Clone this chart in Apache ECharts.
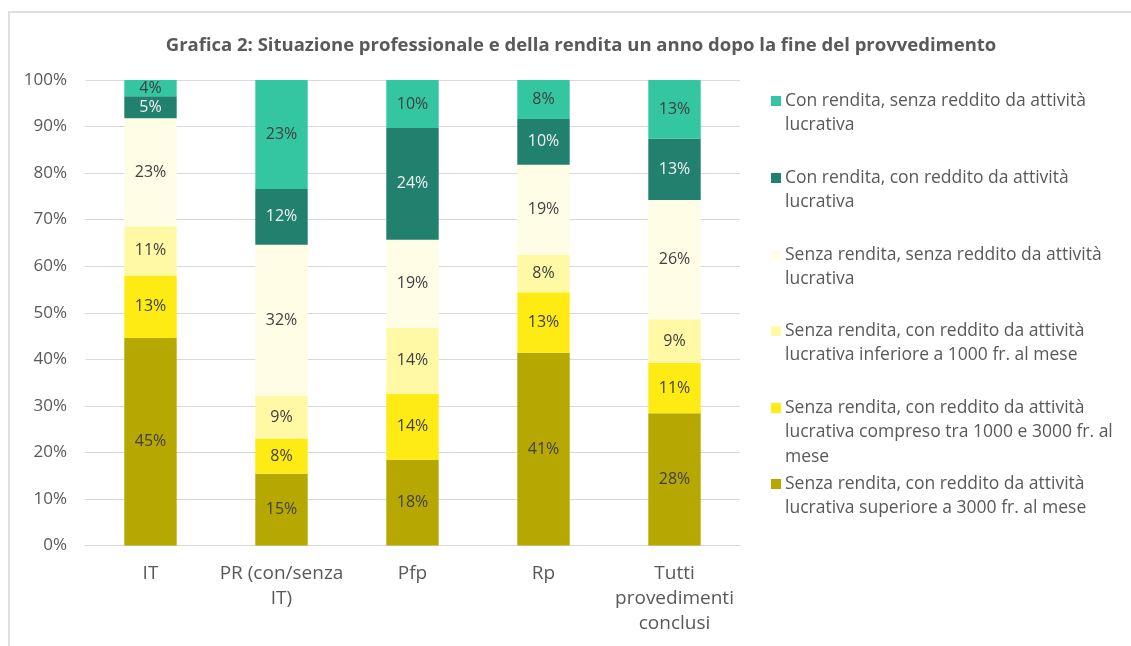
<!DOCTYPE html>
<html><head><meta charset="utf-8">
<script src="https://cdn.jsdelivr.net/npm/echarts@6/dist/echarts.min.js"></script>
<style>html,body{margin:0;padding:0;background:#fff}#c{width:1131px;height:646px}</style>
</head><body><div id="c"></div>
<script>
const titleText = 'Grafica 2: Situazione professionale e della rendita un anno dopo la fine del provvedimento';
const categories = ['IT', 'PR (con/senza\nIT)', 'Pfp', 'Rp', 'Tutti\nprovedimenti\nconclusi'];
const yTicks = ['0%','10%','20%','30%','40%','50%','60%','70%','80%','90%','100%'];
// series, bottom to top
const seriesNames = [
  'Senza rendita, con reddito da attività\nlucrativa superiore a 3000 fr. al mese',
  'Senza rendita, con reddito da attività\nlucrativa compreso tra 1000 e 3000 fr. al\nmese',
  'Senza rendita, con reddito da attività\nlucrativa inferiore a 1000 fr. al mese',
  'Senza rendita, senza reddito da attività\nlucrativa',
  'Con rendita, con reddito da attività\nlucrativa',
  'Con rendita, senza reddito da attività\nlucrativa'
];
const sopra3000 = [44.6, 15.4, 18.4, 41.4, 28.4];
const tra1000e3000 = [13.4, 7.6, 14.2, 13.0, 10.8];
const sotto1000 = [10.6, 9.2, 14.2, 8.0, 9.4];
const senzaSenza = [23.2, 32.4, 18.9, 19.4, 25.6];
const conCon = [4.7, 12.0, 24.0, 9.8, 13.2];
const conSenza = [3.5, 23.4, 10.3, 8.4, 12.6];
const seriesValues = [sopra3000, tra1000e3000, sotto1000, senzaSenza, conCon, conSenza];
const colors = ['#B6A800', '#FFEB14', '#FFF8A5', '#FFFDE5', '#22806E', '#34C5A1'];
const labelColors = ['#404040', '#404040', '#404040', '#404040', '#F2F2F2', '#404040'];

const FONT = 'Open Sans';
const legendTargets = [484, 408, 331, 255, 178, 101]; // line-1 centre for each series (same order as series)
const LH = 24.5;

const series = seriesNames.map((n, i) => ({
  name: n, type: 'bar', stack: 'total', data: seriesValues[i],
  barCategoryGap: '60%',
  itemStyle: { color: colors[i] },
  label: { show: true, position: 'inside', color: labelColors[i], fontFamily: FONT, fontSize: 16,
    formatter: p => Math.round(p.value) + '%' },
  emphasis: { disabled: true }
}));

const legends = seriesNames.map((n, i) => {
  const lines = n.split('\n').length;
  const blanks = lines - 1;
  return {
    data: [n], left: 771, top: legendTargets[i] - blanks * LH - LH / 2,
    orient: 'vertical', padding: 0, itemWidth: 10, itemHeight: 10, itemGap: 6,
    icon: 'rect', selectedMode: false,
    formatter: name => '\n'.repeat(blanks) + name,
    textStyle: { fontFamily: FONT, fontSize: 17.5, color: '#595959', lineHeight: LH, padding: [0,0,0,-1] }
  };
});

const chart = echarts.init(document.getElementById('c'));
chart.setOption({
  animation: false,
  title: { text: titleText, left: 576, textAlign: 'center', top: 31,
    textStyle: { fontFamily: FONT, fontSize: 18.5, fontWeight: 'bold', color: '#595959' } },
  legend: legends,
  grid: { left: 85, right: 391, top: 80, bottom: 100.5, containLabel: false },
  xAxis: { type: 'category', data: categories,
    axisLine: { lineStyle: { color: '#D9D9D9', width: 1 } }, axisTick: { show: false },
    axisLabel: { fontFamily: FONT, fontSize: 19, color: '#595959', lineHeight: 25, margin: 16, interval: 0 } },
  yAxis: { type: 'value', min: 0, max: 100, interval: 10,
    axisLine: { show: false }, axisTick: { show: false },
    splitLine: { lineStyle: { color: '#D9D9D9', width: 1 } },
    axisLabel: { fontFamily: FONT, fontSize: 17, color: '#595959', margin: 18,
      formatter: v => yTicks[Math.round(v / 10)] } },
  graphic: [
    { type: 'polyline', shape: { points: [[9, 646], [9, 12], [1131, 12]] },
      style: { stroke: '#E0E0E0', lineWidth: 2, fill: null }, silent: true }
  ],
  series
});
</script></body></html>
